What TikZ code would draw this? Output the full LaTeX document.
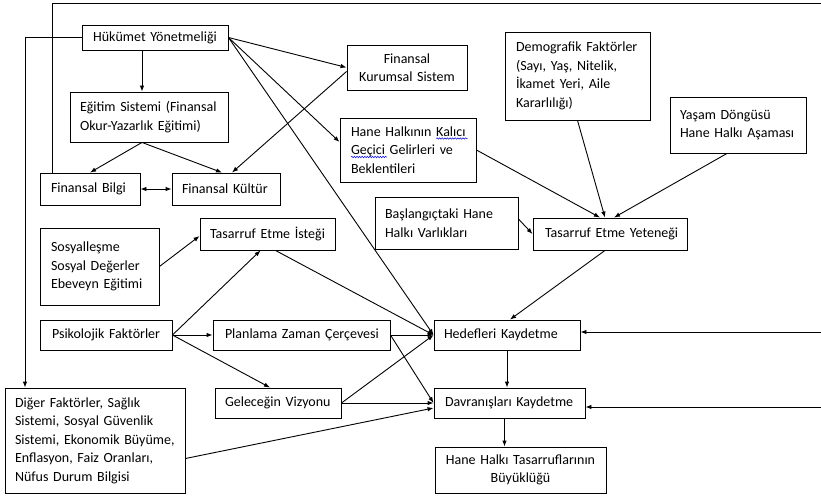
\documentclass[tikz,border=0pt]{standalone}
\usepackage{fontspec}
\setmainfont{Carlito}
\usetikzlibrary{arrows.meta,calc,decorations.pathmorphing}
\newcommand\bluewave[1]{\tikz[baseline=(wv.base)]{\node[draw=none, inner sep=0pt, outer sep=0pt, text width={}, minimum width=0pt, minimum height=0pt, font=\fontsize{14}{18.5}\selectfont] (wv) {#1};\draw[overlay, blue!80!black, line width=0.5pt, decorate, decoration={snake, amplitude=0.7pt, segment length=2.6pt}] ([yshift=-2.2pt]wv.base west) -- ([yshift=-2.2pt,xshift=2pt]wv.base east);}}
\newcommand\mkln[1]{\mbox{#1}}
\begin{document}
\begin{tikzpicture}[x=1pt,y=-1pt,
  box/.style={draw, line width=0.9pt, inner ysep=0pt, font=\fontsize{14}{18.5}\selectfont},
  lb/.style n args={3}{box, align=left, inner xsep=#1, text width=#2, minimum height=#3},
  cb/.style n args={3}{box, align=center, inner xsep=#1, text width=#2, minimum height=#3},
  arr/.style={line width=0.9pt, -{Latex[length=6pt,width=4.5pt]}},
  darr/.style={line width=0.9pt, {Latex[length=6pt,width=4.5pt]}-{Latex[length=6pt,width=4.5pt]}},
  ln/.style={line width=0.9pt}]
\useasboundingbox (0,0) rectangle (821,497);

\node[cb={10pt}{126pt}{25pt}] (hukumet) at (155,37.5) {Hükümet Yönetmeliği};
\node[lb={10pt}{138pt}{50pt}] (egitim) at (149,117) {\mkln{Eğitim Sistemi (Finansal}\\\mkln{Okur-Yazarlık Eğitimi)}};
\node[lb={11pt}{78pt}{32pt}] (fbilgi) at (90,189) {\mkln{Finansal Bilgi}};
\node[lb={10pt}{88pt}{32pt}] (fkultur) at (226,189) {\mkln{Finansal Kültür}};
\node[cb={8pt}{104pt}{45pt}] (fkurumsal) at (407,67.5) {\mkln{Finansal}\\\mkln{Kurumsal Sistem}};
\node[lb={11pt}{114pt}{64pt}] (hane) at (408,150) {\mkln{Hane Halkının \bluewave{Kalıcı}}\\\mkln{\bluewave{Geçici} Gelirleri ve}\\\mkln{Beklentileri}};
\node[lb={11pt}{123pt}{88pt}] (demog) at (577.5,76) {\mkln{Demografik Faktörler}\\\mkln{(Sayı, Yaş, Nitelik,}\\\mkln{İkamet Yeri, Aile}\\\mkln{Kararlılığı)}};
\node[lb={10pt}{116pt}{56pt}] (yasam) at (738,125) {\mkln{Yaşam Döngüsü}\\\mkln{Hane Halkı Aşaması}};
\node[lb={10pt}{123pt}{52pt}] (baslangic) at (446.5,223) {\mkln{Başlangıçtaki Hane}\\\mkln{Halkı Varlıkları}};
\node[lb={12pt}{130pt}{32pt}] (yetenek) at (610,234) {\mkln{Tasarruf Etme Yeteneği}};
\node[lb={11pt}{97pt}{77pt}] (sosyal) at (99.5,266.5) {\mkln{Sosyalleşme}\\\mkln{Sosyal Değerler}\\\mkln{Ebeveyn Eğitimi}};
\node[lb={10pt}{115pt}{32pt}] (istek) at (267.5,234) {\mkln{Tasarruf Etme İsteği}};
\node[lb={12pt}{108pt}{30pt}] (psiko) at (106,335) {\mkln{Psikolojik Faktörler}};
\node[lb={12pt}{153pt}{30pt}] (planlama) at (301.5,335) {\mkln{Planlama Zaman Çerçevesi}};
\node[lb={10pt}{106pt}{30pt}] (gelecek) at (278,403) {\mkln{Geleceğin Vizyonu}};
\node[lb={10pt}{160pt}{105pt}] (diger) at (95,440.5) {\mkln{Diğer Faktörler, Sağlık}\\\mkln{Sistemi, Sosyal Güvenlik}\\\mkln{Sistemi, Ekonomik Büyüme,}\\\mkln{Enflasyon, Faiz Oranları,}\\\mkln{Nüfus Durum Bilgisi}};
\node[lb={10pt}{126pt}{30pt}] (hedef) at (507,335) {\mkln{Hedefleri Kaydetme}};
\node[lb={11pt}{129pt}{30pt}] (davranis) at (509.5,403) {\mkln{Davranışları Kaydetme}};
\node[cb={8pt}{155pt}{46pt}] (buyukluk) at (520.5,470) {\mkln{Hane Halkı Tasarruflarının}\\\mkln{Büyüklüğü}};

\coordinate (tr) at (821,3);
\coordinate (rh) at (821,332);
\coordinate (rd) at (821,407);

\draw[arr] ([xshift=-13pt]hukumet.south) -- ([xshift=-13pt]hukumet.south |- egitim.north);
\draw[arr] (hukumet.east) -- (fkurumsal.west);
\draw[arr] (hukumet.east) -- ([yshift=8pt]hane.west);
\draw[arr] (hukumet.east) -- (hedef.west);
\draw[arr] ([xshift=-7pt]egitim.south) -- (fbilgi.north);
\draw[arr] ([xshift=-7pt]egitim.south) -- ([xshift=-4pt]fkultur.north);
\draw[arr] ([yshift=-4pt]fkurumsal.west) -- ([xshift=6pt]fkultur.north);
\draw[darr] (fbilgi.east) -- (fkultur.west);
\draw[ln] ([xshift=-38pt]fbilgi.north) |- (tr);
\draw[arr] (hukumet.west) -| ([xshift=-70pt]diger.north);
\draw[arr] (hane.east) -- ([xshift=-10pt]yetenek.north);
\draw[arr] (demog.south) -- ([xshift=-5pt]yetenek.north);
\draw[arr] ([xshift=-11pt]yasam.south) -- ([xshift=4pt]yetenek.north);
\draw[arr] ([yshift=4pt]baslangic.east) -- (yetenek.west);
\draw[arr] ([xshift=-5pt]yetenek.south) -- ([xshift=3pt]hedef.north);
\draw[arr] (sosyal.east) -- ([yshift=-2pt]istek.west);
\draw[arr] (psiko.east) -- ([xshift=-7pt]istek.south);
\draw[arr] (psiko.east) -- (planlama.west);
\draw[arr] (psiko.east) -- ([xshift=-8pt]gelecek.north);
\draw[arr] ([xshift=8pt]istek.south) -- (hedef.west);
\draw[arr] (planlama.east) -- (hedef.west);
\draw[arr] (planlama.east) -- (davranis.west);
\draw[arr] (gelecek.east) -- (hedef.west);
\draw[arr] (gelecek.east) -- (davranis.west);
\draw[arr] ([yshift=-18pt]diger.east) -- ([yshift=-5pt]davranis.west);
\draw[arr] (hedef.south) -- (hedef.south |- davranis.north);
\draw[arr] ([xshift=-5pt]davranis.south) -- ([xshift=-5pt]davranis.south |- buyukluk.north);
\draw[arr] (rh) -- (rh -| hedef.east);
\draw[arr] (rd) -- (rd -| davranis.east);
\end{tikzpicture}
\end{document}
